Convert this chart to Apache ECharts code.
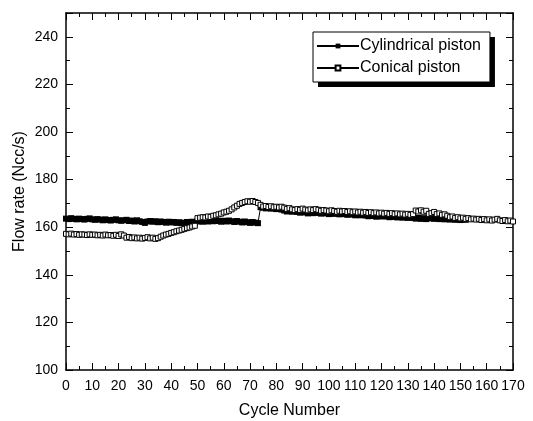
<!DOCTYPE html>
<html>
<head>
<meta charset="utf-8">
<script src="https://cdn.jsdelivr.net/npm/echarts@6/dist/echarts.min.js"></script>
<style>
  html, body { margin: 0; padding: 0; background: #fff; }
  #chart { width: 533px; height: 421px; }
</style>
</head>
<body>
<div id="chart"></div>
<script>
// Flow rate per cycle, index = cycle number
const cylindricalFlow = [
  163.6, 163.4, 163.8, 163.5, 163.3, 163.6, 163.4, 163.2, 163.5, 163.7, 163.3,
  163.1, 163.4, 163.2, 162.9, 163.3, 163.0, 162.8, 163.1, 163.3, 162.9,
  162.7, 162.9, 163.1, 162.6, 162.8, 162.4, 162.9, 162.5, 162.2, 161.8,
  162.4, 162.6, 162.3, 162.5, 162.1, 162.4, 162.2, 161.9, 162.3, 162.0,
  162.2, 161.8, 162.1, 161.7, 161.9, 162.2, 161.8, 162.3, 162.0, 162.4,
  162.6, 162.3, 162.7, 162.4, 162.8, 162.5, 162.9, 162.6, 162.3, 162.7,
  162.4, 162.8, 162.5, 162.2, 162.6, 162.3, 162.0, 162.4, 162.1, 161.8, 162.2, 161.9, 161.7,
  168.4, 168.2, 167.9, 168.1, 167.8, 168.0, 167.6, 167.9,
  167.4, 167.0, 166.6, 166.9, 166.5, 166.8, 166.4, 166.1, 166.5, 166.2,
  165.8, 166.1, 165.9, 166.3, 166.0, 165.7, 166.1, 165.8, 165.5, 165.9,
  165.6, 165.9, 165.4, 165.7, 165.5, 165.2, 165.6, 165.3, 165.0, 165.4,
  165.0, 165.2, 164.9, 164.6, 165.0, 164.7, 164.4, 164.7, 164.5, 164.8,
  164.5, 164.2, 164.6, 164.3, 164.1, 164.4, 164.0, 164.3, 163.9, 164.2,
  163.9, 163.6, 163.9, 163.5, 163.8, 163.4, 163.7, 163.9, 163.5, 163.8,
  163.4, 163.7, 163.3, 163.6, 163.2, 163.5, 163.1, 163.4, 163.0, 163.3, 163.1
]
const conicalFlow = [
  157.2, 157.0, 157.3, 156.9, 157.1, 156.8, 157.0, 156.9, 156.7, 157.0, 156.8,
  156.9, 156.6, 156.8, 156.5, 156.9, 156.6, 156.7, 156.4, 156.8, 156.3,
  157.0, 156.5, 155.6, 155.9, 155.4, 155.7, 155.3, 155.6, 155.2, 155.5,
  155.8, 155.3, 155.6, 155.1, 155.4, 156.0, 156.5, 156.9, 157.2, 157.6,
  157.9, 158.3, 158.6, 158.9, 159.3, 159.6, 159.9, 160.3, 160.6, 163.8,
  164.0, 164.2, 164.1, 164.5, 164.3, 164.8, 165.0, 165.4, 165.7, 166.2,
  166.5, 166.9, 167.5, 168.3, 169.0, 169.8, 170.2, 170.6, 170.9, 170.7,
  171.0, 170.6, 170.2, 169.4, 168.7, 168.9, 168.5, 168.8, 168.4, 168.6,
  168.3, 168.6, 168.2, 167.7, 168.0, 167.5, 167.2, 167.6, 167.3, 167.8,
  167.4, 167.1, 167.5, 167.2, 167.6, 167.3, 166.9, 167.2, 167.0, 166.7,
  167.1, 166.8, 166.5, 166.9, 166.6, 166.8, 166.4, 166.7, 166.3, 166.6,
  166.2, 166.5, 166.1, 166.4, 166.0, 166.3, 165.9, 166.2, 165.8, 166.1,
  165.7, 166.0, 165.6, 165.9, 165.5, 165.8, 165.4, 165.7, 165.3, 165.6,
  165.2, 165.5, 167.0, 166.6, 167.1, 166.5, 166.9, 165.6, 165.9, 166.4,
  165.5, 165.8, 165.2, 165.4, 164.8, 164.2, 164.5, 163.9, 164.2, 163.7,
  164.0, 163.5, 163.8, 163.3, 163.6, 163.2, 163.5, 163.0, 163.4, 162.9,
  163.3, 162.8, 163.2, 163.5, 162.9, 162.6, 163.0, 162.5, 162.8, 162.4
]
const seriesNames = ['Cylindrical piston', 'Conical piston']

const chart = echarts.init(document.getElementById('chart'))
const font = '"Liberation Sans", Arial, sans-serif'

const frameAxis = {
  axisLine: { show: true, onZero: false, lineStyle: { color: '#000', width: 1.5 } },
  axisTick: { show: true, inside: true, length: 7, lineStyle: { color: '#000', width: 1 } },
  minorTick: { show: true, splitNumber: 2, length: 4, lineStyle: { color: '#000', width: 1 } },
  splitLine: { show: false }
}

// both legends share the same layout; the first one only paints the drop shadow
const legendBase = {
  orient: 'vertical',
  left: 313,
  top: 32,
  padding: [6, 9, 6, 3],
  itemGap: 6,
  itemWidth: 42,
  itemHeight: 6,
  borderRadius: 0,
  selectedMode: false,
  data: seriesNames
}

const option = {
  animation: false,
  backgroundColor: '#fff',
  grid: { left: 66, right: 20, top: 13, bottom: 51, outerBoundsMode: 'none' },
  legend: [
    Object.assign({}, legendBase, {
      z: 3,
      backgroundColor: '#fff',
      borderWidth: 0,
      shadowColor: '#000',
      shadowBlur: 0,
      shadowOffsetX: 5,
      shadowOffsetY: 5,
      itemStyle: { opacity: 0 },
      lineStyle: { opacity: 0 },
      textStyle: { color: 'rgba(0,0,0,0)', fontSize: 16, fontFamily: font, padding: [0, 0, 0, -4] }
    }),
    Object.assign({}, legendBase, {
      z: 4,
      backgroundColor: 'transparent',
      borderColor: '#000',
      borderWidth: 1,
      textStyle: { color: '#000', fontSize: 16, fontFamily: font, padding: [0, 0, 0, -4] }
    })
  ],
  xAxis: [
    Object.assign({}, frameAxis, {
      type: 'value', min: 0, max: 170, interval: 10,
      name: 'Cycle Number', nameLocation: 'middle', nameGap: 33, nameMoveOverlap: false,
      nameTextStyle: { color: '#000', fontSize: 16, fontFamily: font },
      axisLabel: { color: '#000', fontSize: 14, fontFamily: font, margin: 9 }
    }),
    Object.assign({}, frameAxis, {
      type: 'value', min: 0, max: 170, interval: 10, position: 'top',
      axisLabel: { show: false }
    })
  ],
  yAxis: [
    Object.assign({}, frameAxis, {
      type: 'value', min: 100, max: 250, interval: 20,
      name: 'Flow rate (Ncc/s)', nameLocation: 'middle', nameGap: 38, nameMoveOverlap: false,
      nameTextStyle: { color: '#000', fontSize: 16, fontFamily: font },
      axisLabel: { color: '#000', fontSize: 14, fontFamily: font, margin: 8, showMaxLabel: false }
    }),
    Object.assign({}, frameAxis, {
      type: 'value', min: 100, max: 250, interval: 20, position: 'right',
      axisLabel: { show: false }
    })
  ],
  series: [
    {
      name: seriesNames[0],
      type: 'line',
      data: cylindricalFlow.map((v, i) => [i, v]),
      symbol: 'rect',
      symbolSize: 6,
      showAllSymbol: true,
      lineStyle: { color: '#000', width: 1 },
      itemStyle: { color: '#000', borderColor: '#000', borderWidth: 0 }
    },
    {
      name: seriesNames[1],
      type: 'line',
      data: conicalFlow.map((v, i) => [i, v]),
      symbol: 'rect',
      symbolSize: 5,
      showAllSymbol: true,
      lineStyle: { color: '#000', width: 1 },
      itemStyle: { color: '#fff', borderColor: '#000', borderWidth: 1 }
    }
  ]
}

chart.setOption(option)
</script>
</body>
</html>
